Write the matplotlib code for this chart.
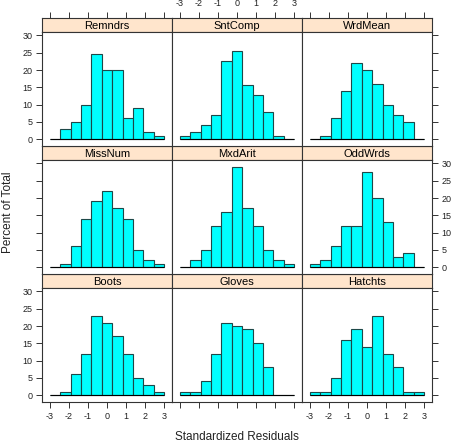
import matplotlib
matplotlib.use('Agg', force=True)
import numpy as np
import matplotlib.pyplot as plt

plt.rcParams['font.family'] = ['Liberation Sans', 'DejaVu Sans']

# ---------- data (percent of total per bin) ----------
edges = np.linspace(-3, 3, 12)   # 11 bins
panels = ['Boots', 'Gloves', 'Hatchts',
          'MissNum', 'MxdArit', 'OddWrds',
          'Remndrs', 'SntComp', 'WrdMean']
boots   = [0, 1, 6, 12, 23, 21, 17, 12, 5, 3, 1]
gloves  = [1, 1, 4, 12, 21, 20, 19, 15, 8, 0, 0]
hatchts = [1, 1, 5, 16, 19, 14, 23, 12, 8, 1, 1]
missnum = [0, 1, 6, 14, 19, 22, 17, 14, 5, 2, 1]
mxdarit = [0, 2, 5, 12, 16, 29, 17, 12, 5, 2, 1]
oddwrds = [1, 2, 6, 12, 12, 27.6, 20, 13, 3, 4, 0]
remndrs = [0, 3, 5, 10, 24.6, 20, 20, 6, 9, 2, 1]
sntcomp = [1, 2, 4, 7, 22.6, 25.6, 15.7, 12.7, 7.7, 1, 0]
wrdmean = [0, 1, 6, 14, 22, 20, 16, 10, 7, 5, 0]
values = [boots, gloves, hatchts, missnum, mxdarit, oddwrds,
          remndrs, sntcomp, wrdmean]
xticks = [-3, -2, -1, 0, 1, 2, 3]
xticklabels = ['-3', '-2', '-1', '0', '1', '2', '3']
yticks = [0, 5, 10, 15, 20, 25, 30]

W, H = 454, 443
fig = plt.figure(figsize=(W / 100, H / 100), dpi=100)

col_left = [42, 172, 302]
pw = 130
strip_h = 14
row_top = [18, 146, 274]      # top of strip, pixels from top
ph = 114
frame = '#333333'

def px_axes(x, y_top, w, h):
    return fig.add_axes([x / W, 1 - (y_top + h) / H, w / W, h / H])

for i, (name, vals) in enumerate(zip(panels, values)):
    r = 2 - i // 3      # lattice fills from bottom
    c = i % 3
    x0 = col_left[c]
    yt = row_top[r]

    # strip
    sax = px_axes(x0, yt, pw, strip_h)
    sax.set_facecolor('#ffe5cc')
    sax.set_xlim(-3.4, 3.4)
    sax.set_yticks([])
    sax.text(0.5, 0.45, name, transform=sax.transAxes, ha='center',
             va='center', fontsize=8, color='black')
    for sp in sax.spines.values():
        sp.set_color(frame)
        sp.set_linewidth(0.8)

    # panel
    ax = px_axes(x0, yt + strip_h, pw, ph)
    ax.bar(edges[:-1], vals, width=np.diff(edges), align='edge',
           color='#00ffff', edgecolor='#1e4848', linewidth=0.8)
    ax.hlines(0, edges[0], edges[-1], color='black', linewidth=0.8)
    ax.set_xlim(-3.4, 3.4)
    ax.set_ylim(-2.0, 31.0)
    for sp in ax.spines.values():
        sp.set_color(frame)
        sp.set_linewidth(0.8)

    tick_kw = dict(direction='out', length=4, width=0.7, color=frame,
                   labelsize=6.5, labelcolor='#222222', pad=3)

    # x axis: bottom row ticks on bottom, top row ticks on top of strip
    ax.set_xticks(xticks)
    ax.set_xticklabels(xticklabels)
    sax.set_xticks(xticks)
    sax.set_xticklabels(xticklabels)
    if r == 2:
        ax.tick_params(axis='x', bottom=True, labelbottom=(c != 1), **tick_kw)
    else:
        ax.tick_params(axis='x', bottom=False, labelbottom=False)
    ax.tick_params(axis='x', top=False, labeltop=False)
    if r == 0:
        sax.tick_params(axis='x', top=True, labeltop=(c == 1),
                        bottom=False, labelbottom=False, **tick_kw)
    else:
        sax.tick_params(axis='x', top=False, bottom=False,
                        labeltop=False, labelbottom=False)

    # y axis: left column ticks left, right column ticks right
    ax.set_yticks(yticks)
    if c == 0:
        ax.tick_params(axis='y', left=True, labelleft=(r != 1), **tick_kw)
    else:
        ax.tick_params(axis='y', left=False, labelleft=False)
    if c == 2:
        ax.tick_params(axis='y', right=True, labelright=(r == 1), **tick_kw)
    else:
        ax.tick_params(axis='y', right=False, labelright=False)

fig.text(8 / W, 1 - 212 / H, 'Percent of Total', rotation=90,
         ha='center', va='center', fontsize=8.5, color='#222222')
fig.text(237 / W, 1 - 437 / H, 'Standardized Residuals',
         ha='center', va='center', fontsize=8.5, color='#222222')

fig.savefig('out.png', dpi=100)
